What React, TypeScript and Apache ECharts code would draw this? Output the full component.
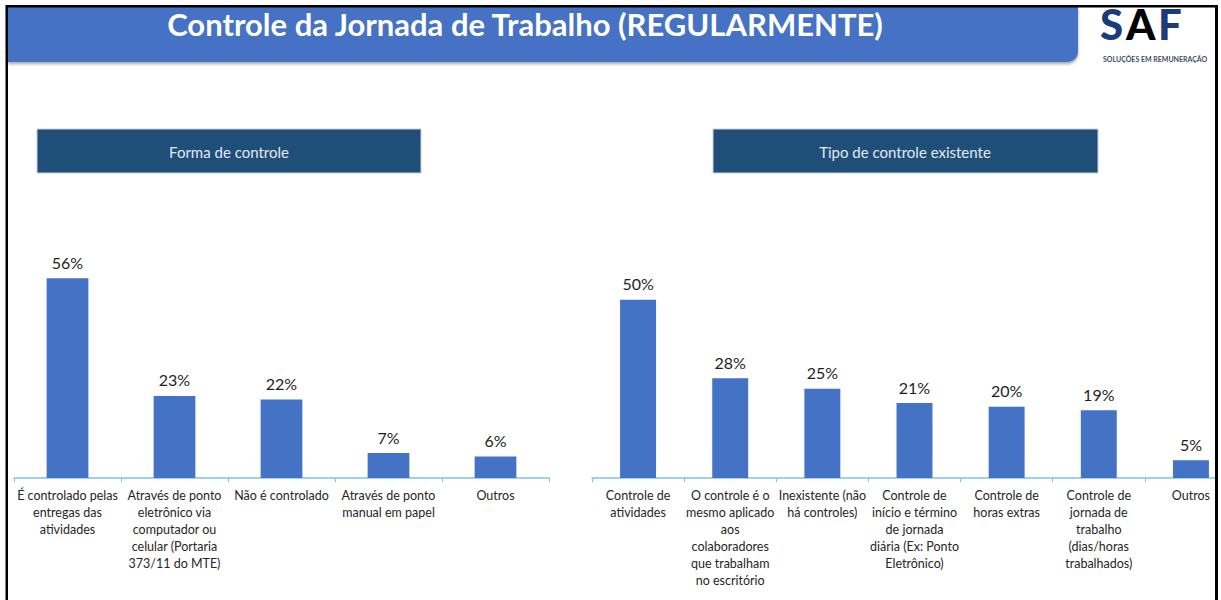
import React, { useEffect, useRef } from "react";
import * as echarts from "echarts";

const pageTitle = "Controle da Jornada de Trabalho (REGULARMENTE)";
const leftTitle = "Forma de controle";
const rightTitle = "Tipo de controle existente";
const logoLetters = ["S", "A", "F"];
const logoTagline = "SOLUÇÕES EM REMUNERAÇÃO";

const leftCategories = [
  "É controlado pelas\nentregas das\natividades",
  "Através de ponto\neletrônico via\ncomputador ou\ncelular (Portaria\n373/11 do MTE)",
  "Não é controlado",
  "Através de ponto\nmanual em papel",
  "Outros",
];
const leftValues = [56, 23, 22, 7, 6];

const rightCategories = [
  "Controle de\natividades",
  "O controle é o\nmesmo aplicado\naos\ncolaboradores\nque trabalham\nno escritório",
  "Inexistente (não\nhá controles)",
  "Controle de\ninício e término\nde jornada\ndiária (Ex: Ponto\nEletrônico)",
  "Controle de\nhoras extras",
  "Controle de\njornada de\ntrabalho\n(dias/horas\ntrabalhados)",
  "Outros",
];
const rightValues = [50, 28, 25, 21, 20, 19, 5];

const FONT = "Lato, 'Open Sans', sans-serif";
const BAR = "#4472c4";
const AXIS = "#7cc4ea";

export default function App() {
  const ref = useRef<HTMLDivElement>(null);
  useEffect(() => {
    if (!ref.current) return;
    const chart = echarts.init(ref.current, null, { renderer: "svg" });
    const xAxisCommon = (gridIndex: number, data: string[]) => ({
      type: "category",
      gridIndex,
      data,
      axisLine: { show: true, lineStyle: { color: AXIS, width: 1.5 } },
      axisTick: { show: true, alignWithLabel: false, length: 4, lineStyle: { color: AXIS } },
      axisLabel: {
        interval: 0,
        margin: 9,
        color: "#262626",
        fontFamily: FONT,
        fontSize: 12.5,
        lineHeight: 17,
        align: "center",
        verticalAlign: "top",
      },
    });
    const yAxisCommon = (gridIndex: number) => ({
      type: "value",
      gridIndex,
      min: 0,
      max: 60,
      show: false,
      splitLine: { show: false },
    });
    const seriesCommon = (i: number, data: number[]) => ({
      type: "bar",
      xAxisIndex: i,
      yAxisIndex: i,
      data,
      barWidth: "39%",
      itemStyle: { color: BAR },
      label: {
        show: true,
        position: "top",
        distance: 8,
        formatter: "{c}%",
        color: "#1e1e1e",
        fontFamily: FONT,
        fontSize: 16,
      },
    });
    const logoColors = ["#1c3c78", null, "#1c3c78"];
    const logoX = [1100, 1126, 1158];
    const logo = logoLetters.map((t, i) => ({
      type: "text",
      z: 51,
      x: logoX[i],
      y: 3,
      style: {
        text: t,
        fill:
          logoColors[i] ||
          new echarts.graphic.LinearGradient(0, 0, 1, 1, [
            { offset: 0, color: "#1c3c78" },
            { offset: 1, color: "#8fb3e3" },
          ]),
        font: "900 42px " + FONT,
        verticalAlign: "top",
      },
    }));
    chart.setOption({
      animation: false,
      backgroundColor: "#ffffff",
      grid: [
        { left: 14, width: 535, top: 264, bottom: 122, outerBoundsMode: "none", containLabel: false },
        { left: 592, width: 645, top: 264, bottom: 122, outerBoundsMode: "none", containLabel: false },
      ],
      xAxis: [xAxisCommon(0, leftCategories), xAxisCommon(1, rightCategories)],
      yAxis: [yAxisCommon(0), yAxisCommon(1)],
      series: [seriesCommon(0, leftValues), seriesCommon(1, rightValues)],
      graphic: [
        // header band
        {
          type: "rect",
          z: 50,
          shape: { x: 8, y: 7, width: 1070, height: 55, r: [0, 0, 10, 0] },
          style: {
            fill: "#4472c4",
            shadowBlur: 3,
            shadowOffsetY: 2,
            shadowColor: "rgba(0,0,0,0.35)",
          },
        },
        {
          type: "text",
          z: 51,
          x: 525,
          y: 24,
          style: {
            text: pageTitle,
            fill: "#ffffff",
            font: "bold 31px " + FONT,
            align: "center",
            verticalAlign: "middle",
          },
        },
        ...logo,
        {
          type: "text",
          z: 52,
          x: 1103,
          y: 59,
          style: {
            text: logoTagline,
            fill: "#3b4d6e",
            font: "bold 7px " + FONT,
            verticalAlign: "middle",
          },
        },
        // sub-title boxes
        {
          type: "rect",
          z: 50,
          shape: { x: 37, y: 129, width: 384, height: 44 },
          style: { fill: "#1f4e79", stroke: "#c9d3df", lineWidth: 1 },
        },
        {
          type: "text",
          z: 51,
          x: 229,
          y: 152,
          style: {
            text: leftTitle,
            fill: "#e2e9f1",
            font: "15px " + FONT,
            align: "center",
            verticalAlign: "middle",
          },
        },
        {
          type: "rect",
          z: 50,
          shape: { x: 713, y: 129, width: 385, height: 44 },
          style: { fill: "#1f4e79", stroke: "#c9d3df", lineWidth: 1 },
        },
        {
          type: "text",
          z: 51,
          x: 905,
          y: 152,
          style: {
            text: rightTitle,
            fill: "#e2e9f1",
            font: "15px " + FONT,
            align: "center",
            verticalAlign: "middle",
          },
        },
        // page frame
        { type: "rect", z: 60, shape: { x: 0, y: 0, width: 1221, height: 5 }, style: { fill: "#ffffff" } },
        { type: "rect", z: 61, shape: { x: 6, y: 5, width: 1212, height: 2.5 }, style: { fill: "#000000" } },
        { type: "rect", z: 61, shape: { x: 5.5, y: 5, width: 2.5, height: 595 }, style: { fill: "#000000" } },
        { type: "rect", z: 61, shape: { x: 1215, y: 5, width: 3, height: 595 }, style: { fill: "#000000" } },
        { type: "rect", z: 61, shape: { x: 1218, y: 0, width: 3, height: 600 }, style: { fill: "#ffffff" } },
      ],
    });
    return () => chart.dispose();
  }, []);
  return (
    <div
      ref={ref}
      style={{ position: "fixed", left: 0, top: 0, width: 1221, height: 600 }}
    />
  );
}
